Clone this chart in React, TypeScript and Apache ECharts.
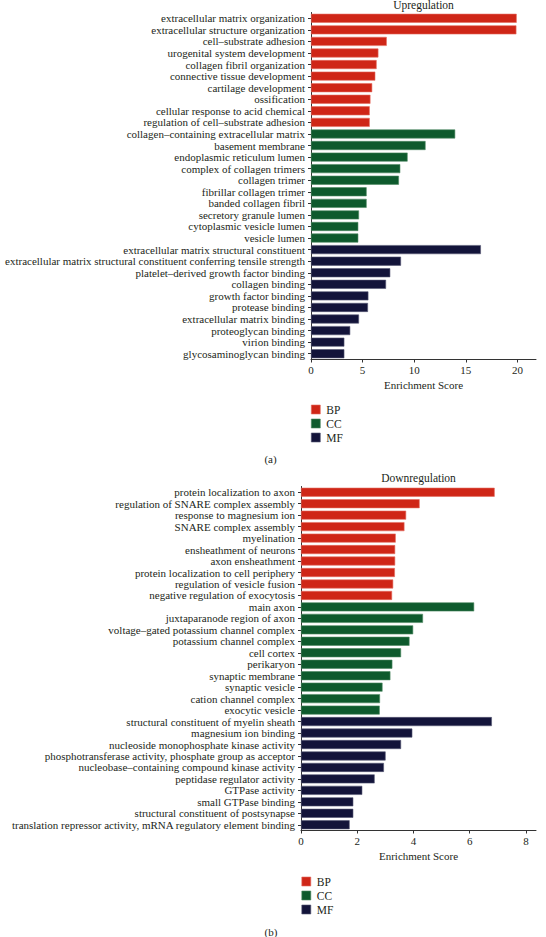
import React, { useEffect, useRef } from "react";
import * as echarts from "echarts";

const upBPLabels = ["extracellular matrix organization", "extracellular structure organization", "cell–substrate adhesion", "urogenital system development", "collagen fibril organization", "connective tissue development", "cartilage development", "ossification", "cellular response to acid chemical", "regulation of cell–substrate adhesion"];
const upBPValues = [19.93, 19.9, 7.34, 6.53, 6.36, 6.23, 5.93, 5.76, 5.69, 5.69];
const upCCLabels = ["collagen–containing extracellular matrix", "basement membrane", "endoplasmic reticulum lumen", "complex of collagen trimers", "collagen trimer", "fibrillar collagen trimer", "banded collagen fibril", "secretory granule lumen", "cytoplasmic vesicle lumen", "vesicle lumen"];
const upCCValues = [13.97, 11.1, 9.36, 8.65, 8.52, 5.39, 5.39, 4.65, 4.58, 4.58];
const upMFLabels = ["extracellular matrix structural constituent", "extracellular matrix structural constituent conferring tensile strength", "platelet–derived growth factor binding", "collagen binding", "growth factor binding", "protease binding", "extracellular matrix binding", "proteoglycan binding", "virion binding", "glycosaminoglycan binding"];
const upMFValues = [16.46, 8.72, 7.68, 7.27, 5.56, 5.52, 4.65, 3.8, 3.23, 3.23];

const downBPLabels = ["protein localization to axon", "regulation of SNARE complex assembly", "response to magnesium ion", "SNARE complex assembly", "myelination", "ensheathment of neurons", "axon ensheathment", "protein localization to cell periphery", "regulation of vesicle fusion", "negative regulation of exocytosis"];
const downBPValues = [6.89, 4.22, 3.74, 3.68, 3.37, 3.35, 3.35, 3.34, 3.28, 3.24];
const downCCLabels = ["main axon", "juxtaparanode region of axon", "voltage–gated potassium channel complex", "potassium channel complex", "cell cortex", "perikaryon", "synaptic membrane", "synaptic vesicle", "cation channel complex", "exocytic vesicle"];
const downCCValues = [6.16, 4.34, 3.99, 3.86, 3.56, 3.25, 3.18, 2.9, 2.81, 2.8];
const downMFLabels = ["structural constituent of myelin sheath", "magnesium ion binding", "nucleoside monophosphate kinase activity", "phosphotransferase activity, phosphate group as acceptor", "nucleobase–containing compound kinase activity", "peptidase regulator activity", "GTPase activity", "small GTPase binding", "structural constituent of postsynapse", "translation repressor activity, mRNA regulatory element binding"];
const downMFValues = [6.79, 3.96, 3.56, 3.01, 2.95, 2.62, 2.18, 1.86, 1.86, 1.73];

const groupNames = ["BP", "CC", "MF"];
const upTicks = [0, 5, 10, 15, 20];
const downTicks = [0, 2, 4, 6, 8];

const COLORS = ["#CF2617", "#0E5A2D", "#13143A"];
const BORDERS = ["#E46C5F", "#4F8A63", "#555774"];
const FONT = "Liberation Serif";
const TXT = "#231F20";

function buildSeries(groups: number[][], gridIdx: number) {
  const total = groups.reduce((s, g) => s + g.length, 0);
  let offset = 0;
  return groups.map((vals, gi) => {
    const data: (number | string)[] = new Array(total).fill("-");
    vals.forEach((v, i) => (data[offset + i] = v));
    offset += vals.length;
    return {
      type: "bar",
      name: groupNames[gi],
      xAxisIndex: gridIdx,
      yAxisIndex: gridIdx,
      stack: "s" + gridIdx,
      barWidth: 9,
      data,
      itemStyle: { color: COLORS[gi], borderColor: BORDERS[gi], borderWidth: 0.6 },
    };
  });
}

export default function App() {
  const ref = useRef<HTMLDivElement>(null);
  useEffect(() => {
    if (!ref.current) return;
    const chart = echarts.init(ref.current, null, { renderer: "svg" });
    const upCats = [...upBPLabels, ...upCCLabels, ...upMFLabels];
    const downCats = [...downBPLabels, ...downCCLabels, ...downMFLabels];
    const axisLine = { show: true, lineStyle: { color: "#333", width: 1 } };
    const yAxisCommon = {
      type: "category",
      inverse: true,
      axisLine,
      axisTick: { show: true, length: 3, alignWithLabel: true, lineStyle: { color: "#333" } },
      axisLabel: { fontFamily: FONT, fontSize: 11, color: TXT, margin: 6, interval: 0 },
      splitLine: { show: false },
    };
    const xAxisCommon = (ticks: number[]) => ({
      type: "value",
      min: 0,
      axisLine,
      axisTick: { show: true, length: 3, lineStyle: { color: "#333" }, customValues: ticks },
      axisLabel: { fontFamily: FONT, fontSize: 11, color: TXT, margin: 5, customValues: ticks },
      splitLine: { show: false },
      name: "Enrichment Score",
      nameLocation: "middle",
      nameGap: 20,
      nameTextStyle: { fontFamily: FONT, fontSize: 11, color: TXT },
    });
    const legendCommon = {
      orient: "vertical",
      icon: "rect",
      padding: 0,
      itemWidth: 9,
      itemHeight: 9,
      itemGap: 2,
      itemStyle: { borderWidth: 0.6 },
      textStyle: { fontFamily: FONT, fontSize: 11.5, color: TXT, lineHeight: 11.8, padding: [0, 0, 0, 1] },
      data: groupNames,
      selectedMode: false,
    };
    const option = {
      animation: false,
      backgroundColor: "#fff",
      grid: [
        { left: 311, top: 12.5, width: 225, height: 347 },
        { left: 301, top: 486.5, width: 235, height: 344 },
      ],
      xAxis: [
        { ...xAxisCommon(upTicks), gridIndex: 0, max: 21.8, interval: upTicks[1] - upTicks[0] },
        { ...xAxisCommon(downTicks), gridIndex: 1, max: 8.36, interval: downTicks[1] - downTicks[0] },
      ],
      yAxis: [
        { ...yAxisCommon, gridIndex: 0, data: upCats },
        { ...yAxisCommon, gridIndex: 1, data: downCats },
      ],
      legend: [
        { ...legendCommon, left: 311, top: 403.5 },
        { ...legendCommon, left: 301.5, top: 875.5 },
      ],
      series: [
        ...buildSeries([upBPValues, upCCValues, upMFValues], 0),
        ...buildSeries([downBPValues, downCCValues, downMFValues], 1),
      ],
      graphic: [
        { type: "text", x: 423.5, y: 5, style: { text: "Upregulation", fontFamily: FONT, fontSize: 11.5, fill: TXT, align: "center", verticalAlign: "middle" } },
        { type: "text", x: 418.5, y: 478, style: { text: "Downregulation", fontFamily: FONT, fontSize: 11.5, fill: TXT, align: "center", verticalAlign: "middle" } },
        { type: "text", x: 270.5, y: 458.5, style: { text: "(a)", fontFamily: FONT, fontSize: 11, fill: TXT, align: "center", verticalAlign: "middle" } },
        { type: "text", x: 271, y: 931.5, style: { text: "(b)", fontFamily: FONT, fontSize: 11, fill: TXT, align: "center", verticalAlign: "middle" } },
      ],
    };
    chart.setOption(option as any);
    return () => chart.dispose();
  }, []);
  return (
    <div
      ref={ref}
      style={{ position: "absolute", left: 0, top: 0, width: 546, height: 937 }}
    />
  );
}
